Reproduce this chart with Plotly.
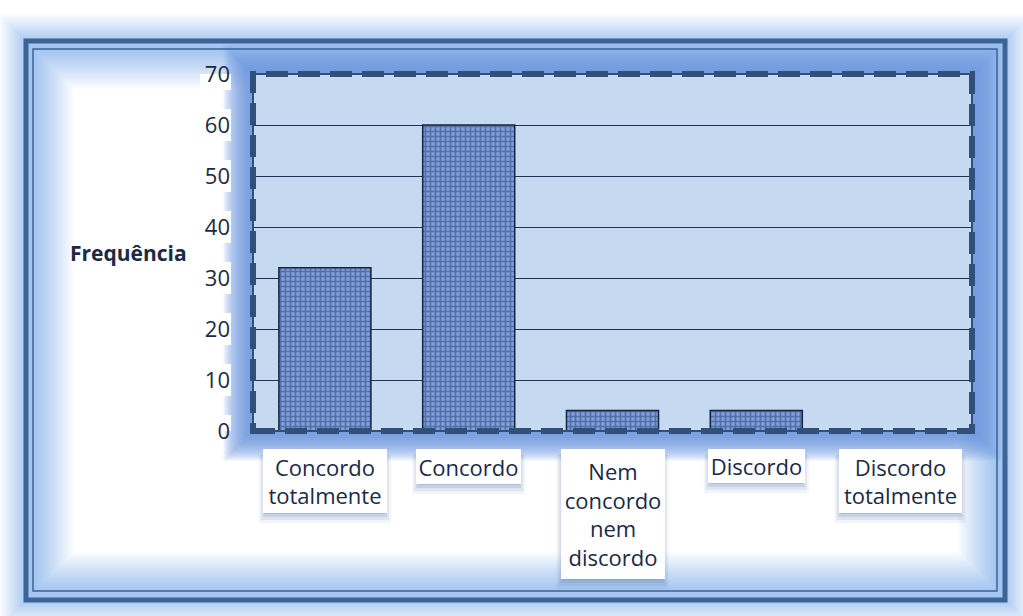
import plotly.graph_objects as go

# Survey responses (Likert scale) and their frequencies
categorias = ["Concordo totalmente", "Concordo", "Nem concordo nem discordo", "Discordo", "Discordo totalmente"]
rotulos = ["Concordo<br>totalmente", "Concordo", "Nem<br>concordo<br>nem<br>discordo", "Discordo", "Discordo<br>totalmente"]
frequencia = [32, 60, 4, 4, 0]
y_ticks = [0, 10, 20, 30, 40, 50, 60, 70]

# label box sizes (px) for each category
caixa_larg = [124, 105, 104, 97, 123]
caixa_alt = [64, 35, 130, 34, 64]

W, H = 1023, 616
FONT = "Open Sans"
TXT = "#1b2a45"
FRAME = "#3b6499"


def px(x):
    return x / W


def py(y):
    return 1 - y / H


def prect(x0, y0, x1, y1, **kw):
    return dict(type="rect", xref="paper", yref="paper",
                x0=px(x0), x1=px(x1), y0=py(y1), y1=py(y0), **kw)


def mix(c1, c2, t):
    a = [int(c1[i:i + 2], 16) for i in (1, 3, 5)]
    b = [int(c2[i:i + 2], 16) for i in (1, 3, 5)]
    return "rgb(%d,%d,%d)" % tuple(round(a[i] + (b[i] - a[i]) * t) for i in range(3))


# plot area in pixels
PL, PT, PR, PB = 253, 74, 972, 431

shapes = []
NO = dict(width=0)
# soft glow outside the outer frame (outermost first)
N_OUT = 28
for k in range(N_OUT, 0, -1):
    t = k / N_OUT
    shapes.append(prect(26 - k, 41 - k, 1005 + k, 600 + k,
                        fillcolor=mix("#a3c4ef", "#ffffff", t ** 0.9), line=NO, layer="below"))
# glow fading to white inside the frame
for k in range(0, 49):
    t = min(1.0, max(0.0, (k - 8) / 40)) ** 1.2
    shapes.append(prect(26 + k, 41 + k, 1005 - k, 600 - k,
                        fillcolor=mix("#a6c6f0", "#ffffff", t), line=NO, layer="below"))
# halo around the plotting area
for k in range(30, 0, -1):
    shapes.append(prect(PL - k, PT - k, PR + k, PB + k,
                        fillcolor="rgba(100,150,222,0.065)", line=NO, layer="below"))
# plot background
shapes.append(dict(type="rect", xref="x domain", yref="y domain", x0=0, x1=1, y0=0, y1=1,
                   fillcolor="#c5d9f1", line=NO, layer="below"))
# white boxes behind y tick labels
for v in y_ticks:
    w = 5 + 13 * len(str(v))
    shapes.append(dict(type="rect", xref="paper", x0=px(231 - w), x1=px(231),
                       yref="y", ysizemode="pixel", yanchor=v, y0=-16, y1=16,
                       fillcolor="white", line=NO, layer="below"))
# soft shadows under the category label boxes
for cat, w, h in zip(categorias, caixa_larg, caixa_alt):
    for grow, dy, a in [(4, 6, 0.07), (2, 5, 0.10), (0, 4, 0.14), (-2, 3, 0.18)]:
        shapes.append(dict(type="rect", xref="x", xsizemode="pixel", xanchor=cat,
                           x0=-w / 2 - grow, x1=w / 2 + grow,
                           yref="paper", ysizemode="pixel", yanchor=py(449),
                           y0=-h - dy - grow, y1=-dy,
                           fillcolor=f"rgba(60,95,160,{a})", line=NO, layer="below"))
# double frame lines
shapes.append(prect(26, 41, 1005, 600, line=dict(color=FRAME, width=5), layer="above"))
shapes.append(prect(33, 49, 997, 591, line=dict(color=FRAME, width=1.5), layer="above"))
# border of the plotting area: thin solid line under thick dashes
shapes.append(dict(type="rect", xref="x domain", yref="y domain", x0=0, x1=1, y0=0, y1=1,
                   line=dict(color="#2f4e78", width=2), layer="above"))
shapes.append(dict(type="rect", xref="x domain", yref="y domain", x0=0, x1=1, y0=0, y1=1,
                   line=dict(color="#30507a", width=6, dash="22px,10px"), layer="above"))

fig = go.Figure()
fig.add_trace(go.Bar(
    x=categorias, y=frequencia,
    marker=dict(
        color="#6482bf",
        line=dict(color="#16243d", width=1.5),
        pattern=dict(shape="+", fgcolor="#23407a", bgcolor="#819fd8", size=5, solidity=0.55),
    ),
    showlegend=False,
    hoverinfo="x+y",
))

annotations = []
# category labels in white boxes
for cat, lab, w, h in zip(categorias, rotulos, caixa_larg, caixa_alt):
    annotations.append(dict(
        x=cat, xref="x", y=py(449), yref="paper", yanchor="top", xanchor="center",
        text=lab, showarrow=False, width=w - 2, height=h - 2, valign="middle",
        font=dict(family=FONT, size=22, color=TXT),
        bgcolor="white", borderpad=0, borderwidth=1, bordercolor="white",
    ))
annotations.append(dict(
    x=px(128), y=py(253), xref="paper", yref="paper", xanchor="center", yanchor="middle",
    text="<b>Frequência</b>", showarrow=False,
    font=dict(family=FONT, size=21, color=TXT),
))

fig.update_layout(
    width=W, height=H,
    margin=dict(l=0, r=0, t=0, b=0),
    paper_bgcolor="white",
    plot_bgcolor="rgba(0,0,0,0)",
    bargap=0.36,
    shapes=shapes,
    annotations=annotations,
    xaxis=dict(domain=[px(PL), px(PR)], showticklabels=False, showgrid=False,
               zeroline=False, showline=False, range=[-0.5, 4.5], automargin=False),
    yaxis=dict(domain=[py(PB), py(PT)], range=[0, 70], tickvals=y_ticks,
               showgrid=True, gridcolor="#1f3453", gridwidth=1.3, zeroline=False,
               showline=False, ticks="", ticklabelstandoff=22, automargin=False,
               tickfont=dict(family=FONT, size=22, color=TXT)),
)

fig.write_html("out.html")
